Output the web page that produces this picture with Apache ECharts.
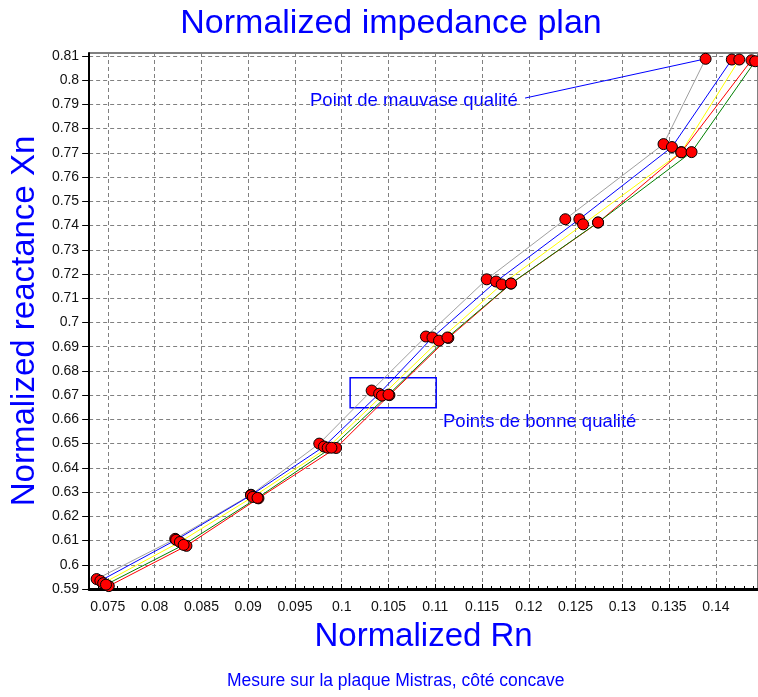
<!DOCTYPE html>
<html><head><meta charset="utf-8">
<script src="https://cdn.jsdelivr.net/npm/echarts@6/dist/echarts.min.js"></script>
<style>html,body{margin:0;padding:0;background:#fff}#c{width:758px;height:697px}</style>
</head><body><div id="c"></div>
<script>
// Normalized resistance (Rn) and reactance (Xn) per measurement series
const rnGray   = [0.0738, 0.0822, 0.0903, 0.0976, 0.1032, 0.1090, 0.1155, 0.1239, 0.1344, 0.1389];
const xnGray   = [0.5941, 0.6107, 0.6289, 0.6500, 0.6719, 0.6942, 0.7178, 0.7426, 0.7736, 0.8088];
const rnBlue   = [0.0742, 0.0823, 0.0903, 0.0981, 0.1040, 0.1097, 0.1165, 0.1254, 0.1353, 0.1417];
const xnBlue   = [0.5934, 0.6103, 0.6287, 0.6488, 0.6706, 0.6938, 0.7169, 0.7426, 0.7724, 0.8085];
const rnYellow = [0.0745, 0.0827, 0.0905, 0.0985, 0.1043, 0.1104, 0.1171, 0.1258, 0.1363, 0.1425];
const xnYellow = [0.5924, 0.6094, 0.6280, 0.6483, 0.6698, 0.6925, 0.7157, 0.7405, 0.7703, 0.8085];
const rnRed    = [0.0751, 0.0834, 0.0911, 0.0994, 0.1051, 0.1114, 0.1181, 0.1274, 0.1363, 0.1438];
const xnRed    = [0.5912, 0.6078, 0.6274, 0.6482, 0.6700, 0.6936, 0.7160, 0.7412, 0.7702, 0.8082];
const rnGreen  = [0.0748, 0.0831, 0.0910, 0.0989, 0.1050, 0.1113, 0.1181, 0.1274, 0.1374, 0.1442];
const xnGreen  = [0.5918, 0.6082, 0.6276, 0.6483, 0.6702, 0.6938, 0.7161, 0.7413, 0.7703, 0.8078];
const seriesColors = ['#a0a0a0', '#0000ff', '#ffff00', '#ff0000', '#008000'];
// annotations (data coordinates)
const badPointLine = [[0.1196, 0.7926], [0.1389, 0.8088]];
const goodBox = [[0.1009, 0.6772], [0.1101, 0.6648]];

const sets = [[rnGray, xnGray], [rnBlue, xnBlue], [rnYellow, xnYellow], [rnRed, xnRed], [rnGreen, xnGreen]];
const pairs = s => s[0].map((r, i) => [r, s[1][i]]);
const FONT = 'Liberation Sans';
const series = [];
sets.forEach((s, k) => {
  const line = {
    type: 'line', data: pairs(s), showSymbol: false, z: 2,
    lineStyle: { color: seriesColors[k], width: 1 }, itemStyle: { color: seriesColors[k] }
  };
  if (k === 0) {
    line.markLine = {
      silent: true, symbol: ['none', 'none'], label: { show: false },
      lineStyle: { color: '#0000ff', type: 'solid', width: 1 },
      data: [[{ coord: badPointLine[0] }, { coord: badPointLine[1] }]]
    };
  }
  if (k === 1) {
    line.markArea = {
      silent: true, label: { show: false },
      itemStyle: { color: 'rgba(0,0,0,0)', borderColor: '#0000ff', borderWidth: 1.5 },
      data: [[{ coord: goodBox[0] }, { coord: goodBox[1] }]]
    };
  }
  series.push(line);
});
sets.forEach((s) => {
  series.push({
    type: 'scatter', data: pairs(s), symbol: 'circle', symbolSize: 11, z: 5,
    itemStyle: { color: '#ff0000', borderColor: '#000', borderWidth: 1, opacity: 1 }
  });
});

const chart = echarts.init(document.getElementById('c'));
chart.setOption({
  animation: false,
  backgroundColor: '#fff',
  title: {
    text: 'Normalized impedance plan', left: 386, top: 2, textAlign: 'center',
    textStyle: { color: '#0000ff', fontFamily: FONT, fontSize: 34, fontWeight: 'normal' }
  },
  grid: { left: 88, top: 53, right: -6, bottom: 108, show: true, borderColor: '#000', borderWidth: 1, backgroundColor: '#fff' },
  xAxis: {
    type: 'value', min: 0.073, max: 0.1445, splitNumber: 14, minInterval: 0.005, maxInterval: 0.005,
    name: 'Normalized Rn', nameLocation: 'middle', nameGap: 31,
    nameTextStyle: { color: '#0000ff', fontFamily: FONT, fontSize: 33 },
    axisLine: { lineStyle: { color: '#000', width: 3 } },
    axisTick: { inside: true, length: 5, lineStyle: { color: '#000' } },
    minorTick: { show: true, splitNumber: 5, length: 3, lineStyle: { color: '#000' } },
    axisLabel: { color: '#111', fontFamily: FONT, fontSize: 14, margin: 11, showMinLabel: false, showMaxLabel: false },
    splitLine: { show: true, lineStyle: { color: '#808080', type: [4, 3], width: 1 } }
  },
  yAxis: {
    type: 'value', min: 0.59, max: 0.8112, interval: 0.01,
    name: 'Normalized reactance Xn', nameLocation: 'middle', nameGap: 42,
    nameTextStyle: { color: '#0000ff', fontFamily: FONT, fontSize: 33 },
    axisLine: { show: true, lineStyle: { color: '#000', width: 2 } },
    axisTick: { show: true, length: 7, lineStyle: { color: '#000' } },
    axisLabel: { color: '#111', fontFamily: FONT, fontSize: 14, margin: 10, showMaxLabel: false },
    splitLine: { show: true, lineStyle: { color: '#808080', type: [4, 3], width: 1 } }
  },
  graphic: [
    { type: 'text', left: 310, top: 91, style: { text: 'Point de mauvase qualité', fill: '#0000ff', font: '18.5px "Liberation Sans"' } },
    { type: 'text', left: 443, top: 412, style: { text: 'Points de bonne qualité', fill: '#0000ff', font: '18.5px "Liberation Sans"' } },
    { type: 'text', left: 227, top: 672, style: { text: 'Mesure sur la plaque Mistras, côté concave', fill: '#0000ff', font: '17.5px "Liberation Sans"' } }
  ],
  series: series
});
</script>
</body></html>
